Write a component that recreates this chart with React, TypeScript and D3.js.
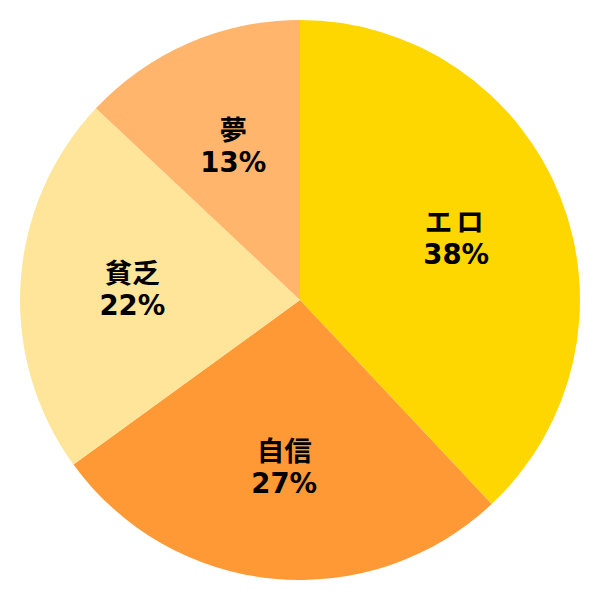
import * as d3 from 'd3';
import { useEffect, useRef } from 'react';

// Slice data, clockwise from 12 o'clock
const labels = ['エロ', '自信', '貧乏', '夢'];
const values = [38, 27, 22, 13];
const colors = ['#FFD700', '#FF9935', '#FFE599', '#FFB56B'];

const SIZE = 600;
const RADIUS = 280;

const App = () => {
  const svgRef = useRef<SVGSVGElement>(null);

  useEffect(() => {
    if (!svgRef.current) return;
    const svg = d3.select(svgRef.current);
    svg.selectAll('*').remove();

    const g = svg
      .append('g')
      .attr('transform', `translate(${SIZE / 2},${SIZE / 2})`);

    const pie = d3
      .pie<number>()
      .sort(null)
      .value((d) => d);
    const arcs = pie(values);

    const arc = d3.arc<d3.PieArcDatum<number>>().innerRadius(0).outerRadius(RADIUS);
    const labelArc = d3
      .arc<d3.PieArcDatum<number>>()
      .innerRadius(RADIUS * 0.6)
      .outerRadius(RADIUS * 0.6);

    g.selectAll('path')
      .data(arcs)
      .join('path')
      .attr('d', arc)
      .attr('fill', (_, i) => colors[i]);

    const text = g
      .selectAll('g.label')
      .data(arcs)
      .join('g')
      .attr('class', 'label')
      .attr('transform', (d) => {
        const [x, y] = labelArc.centroid(d);
        return `translate(${x},${y})`;
      })
      .attr('font-family', '"DejaVu Sans", "Noto Sans CJK JP", sans-serif')
      .attr('font-weight', 'bold')
      .attr('font-size', '27.5px')
      .attr('text-anchor', 'middle')
      .attr('fill', '#000');

    text
      .append('text')
      .attr('y', -16)
      .attr('dominant-baseline', 'central')
      .attr('letter-spacing', (_, i) => (labels[i] === 'エロ' ? '4px' : '0'))
      .text((_, i) => labels[i]);

    text
      .append('text')
      .attr('y', 16)
      .attr('dominant-baseline', 'central')
      .text((d) => `${d.data}%`);
  }, []);

  return (
    <svg
      ref={svgRef}
      width={SIZE}
      height={SIZE}
      style={{ position: 'fixed', top: 0, left: 0, background: '#fff' }}
    />
  );
};

export default App;
